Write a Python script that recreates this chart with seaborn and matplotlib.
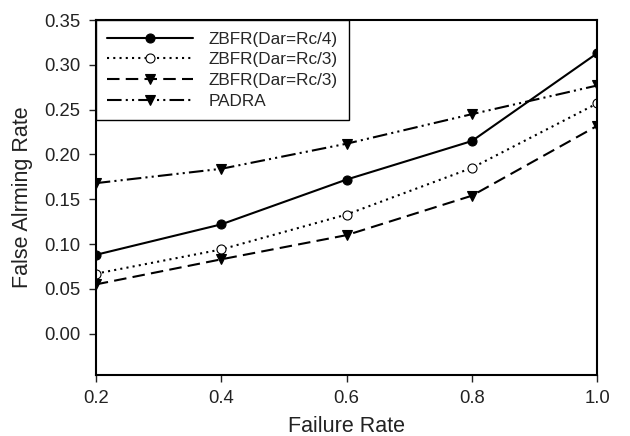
import pandas as pd
import matplotlib
matplotlib.use("Agg")
import matplotlib.pyplot as plt
import seaborn as sns

failure_rate = [0.2, 0.4, 0.6, 0.8, 1.0]
zbfr_rc4 = [0.088, 0.122, 0.172, 0.215, 0.313]
zbfr_rc3_open = [0.067, 0.094, 0.133, 0.185, 0.257]
zbfr_rc3_dash = [0.055, 0.083, 0.110, 0.154, 0.232]
padra = [0.168, 0.184, 0.212, 0.245, 0.277]

series_names = ["ZBFR(Dar=Rc/4)", "ZBFR(Dar=Rc/3)", "ZBFR(Dar=Rc/3)", "PADRA"]
series_values = [zbfr_rc4, zbfr_rc3_open, zbfr_rc3_dash, padra]

sns.set_style("ticks")
plt.rcParams["font.family"] = ["Liberation Sans", "DejaVu Sans"]

fig = plt.figure(figsize=(6.3, 4.36), dpi=100)
ax = fig.add_axes([0.152, 0.140, 0.796, 0.814])

styles = [
    dict(linestyle="-", marker="o", markerfacecolor="black"),
    dict(linestyle=(0, (1, 2)), marker="o", markerfacecolor="white"),
    dict(linestyle=(0, (6, 3)), marker="v", markerfacecolor="black"),
    dict(linestyle=(0, (7, 2, 1, 2, 1, 2)), marker="v", markerfacecolor="black"),
]

for name, vals, st in zip(series_names, series_values, styles):
    df = pd.DataFrame({"x": failure_rate, "y": vals})
    sns.lineplot(data=df, x="x", y="y", ax=ax, color="black", linewidth=1.5,
                 markersize=6.5, markeredgecolor="black", markeredgewidth=0.8,
                 label=name, **st)

ax.set_xlim(0.2, 1.0)
ax.set_ylim(-0.046, 0.35)
ax.set_xticks([0.2, 0.4, 0.6, 0.8, 1.0])
ax.set_yticks([0.0, 0.05, 0.10, 0.15, 0.20, 0.25, 0.30, 0.35])
ax.set_xticklabels(["0.2", "0.4", "0.6", "0.8", "1.0"])
ax.set_yticklabels(["0.00", "0.05", "0.10", "0.15", "0.20", "0.25", "0.30", "0.35"])
ax.tick_params(labelsize=13.3, direction="out", length=5, width=1, colors="#222222")
ax.tick_params(axis="x", pad=6)
ax.tick_params(axis="y", pad=6)
ax.set_xlabel("Failure Rate", fontsize=15.5, color="#222222", labelpad=6)
ax.set_ylabel("False Alrming Rate", fontsize=15.5, color="#222222", labelpad=8)
for s in ax.spines.values():
    s.set_linewidth(1.5)
    s.set_color("black")

leg = ax.legend(loc="upper left", borderaxespad=0, fontsize=12.3, frameon=True,
                fancybox=False, handlelength=5.0, labelspacing=0.33,
                borderpad=0.68, handletextpad=0.9)
leg.get_frame().set_edgecolor("black")
leg.get_frame().set_linewidth(1.0)
leg.get_frame().set_alpha(1)

fig.savefig("out.png", dpi=100)
